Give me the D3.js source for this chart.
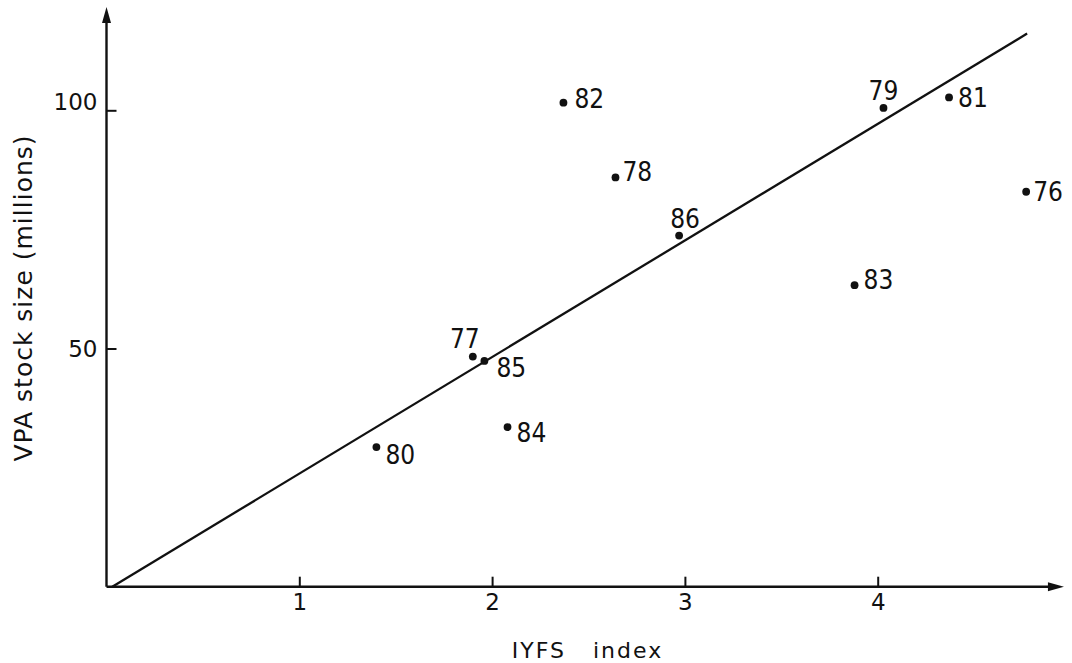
<!DOCTYPE html>
<html>
<head>
<meta charset="utf-8">
<script src="https://cdn.jsdelivr.net/npm/d3@7"></script>
<style>
  html, body { margin: 0; padding: 0; background: #fff; }
  svg { display: block; }
  text { fill: #111; }
</style>
</head>
<body>
<svg id="chart" width="1072" height="663"></svg>
<script>
// ---- data ----
const years = ["76", "77", "78", "79", "80", "81", "82", "83", "84", "85", "86"];
const iyfsIndex = [4.77, 1.90, 2.64, 4.03, 1.40, 4.37, 2.37, 3.88, 2.08, 1.96, 2.97];
const vpaStock = [82.9, 48.3, 85.9, 100.5, 29.3, 102.7, 101.6, 63.3, 33.5, 47.4, 73.7];
const fitX = [0.03, 4.775];
const fitY = [0, 116.1];
const xTicks = [1, 2, 3, 4];
const yTicks = [50, 100];
const xTitle = "IYFS   index";
const yTitle = "VPA stock size (millions)";

// ---- layout / style ----
const svg = d3.select("#chart");
const x = d3.scaleLinear().domain([0, 5]).range([106.5, 106.5 + 5 * 192.8]);
const y = d3.scaleLinear().domain([0, 100]).range([586.7, 110.3]);
const xMax = 4.966, yMax = 121.7;
const ink = "#111";

// label offsets (px) relative to each dot: [dx, dy, anchor]
const labelPlace = {
  "76": [7, 0, "start"], "77": [-8, -18, "middle"], "78": [7, -6, "start"],
  "79": [0, -17, "middle"], "80": [9, 8, "start"], "81": [9, 0, "start"],
  "82": [11, -4, "start"], "83": [9, -5, "start"], "84": [9, 6, "start"],
  "85": [12, 7, "start"], "86": [6, -17, "middle"]
};

// axes lines
svg.append("line")
  .attr("x1", x(0)).attr("y1", y(0)).attr("x2", x(xMax) - 6).attr("y2", y(0))
  .attr("stroke", ink).attr("stroke-width", 2.4);
svg.append("line")
  .attr("x1", x(0)).attr("y1", y(0)).attr("x2", x(0)).attr("y2", y(yMax) + 8)
  .attr("stroke", ink).attr("stroke-width", 2.4);

// arrowheads
const ax = x(xMax), ay = y(0);
svg.append("path")
  .attr("d", `M${ax},${ay} L${ax - 16},${ay - 4.5} L${ax - 16},${ay + 4.5} Z`)
  .attr("fill", ink);
const bx = x(0), by = y(yMax);
svg.append("path")
  .attr("d", `M${bx},${by} L${bx - 4.5},${by + 16} L${bx + 4.5},${by + 16} Z`)
  .attr("fill", ink);

// x ticks (drawn upward, inside)
const xAxis = d3.axisBottom(x).tickValues(xTicks).tickSize(0).tickPadding(0)
  .tickFormat(d3.format("d"));
const gx = svg.append("g").attr("transform", `translate(0,${y(0)})`).call(xAxis);
gx.select(".domain").remove();
gx.selectAll(".tick").append("line")
  .attr("y1", 0).attr("y2", -10).attr("stroke", ink).attr("stroke-width", 2);
gx.selectAll(".tick text")
  .attr("y", 23).attr("dy", null)
  .attr("font-family", "DejaVu Sans, sans-serif").attr("font-size", 23)
  .attr("fill", ink);

// y ticks (drawn to the right, inside)
const yAxis = d3.axisLeft(y).tickValues(yTicks).tickSize(0).tickPadding(0)
  .tickFormat(d3.format("d"));
const gy = svg.append("g").attr("transform", `translate(${x(0)},0)`).call(yAxis);
gy.select(".domain").remove();
gy.selectAll(".tick").append("line")
  .attr("x1", 0).attr("x2", 10).attr("stroke", ink).attr("stroke-width", 2);
gy.selectAll(".tick text")
  .attr("x", -9).attr("dy", d => d === 100 ? "-0.05em" : "0.35em")
  .attr("text-anchor", "end")
  .attr("font-family", "DejaVu Sans, sans-serif").attr("font-size", 23)
  .attr("fill", ink);

// regression line
svg.append("path")
  .datum(fitX.map((v, i) => [v, fitY[i]]))
  .attr("d", d3.line().x(d => x(d[0])).y(d => y(d[1])))
  .attr("fill", "none").attr("stroke", ink).attr("stroke-width", 2.3);

// points
const pts = years.map((yr, i) => ({ yr, xv: iyfsIndex[i], yv: vpaStock[i] }));
svg.append("g").selectAll("circle").data(pts).join("circle")
  .attr("cx", d => x(d.xv)).attr("cy", d => y(d.yv)).attr("r", 3.9)
  .attr("fill", ink);

svg.append("g").selectAll("text").data(pts).join("text")
  .attr("x", d => x(d.xv) + labelPlace[d.yr][0])
  .attr("y", d => y(d.yv) + labelPlace[d.yr][1])
  .attr("dy", "0.36em")
  .attr("text-anchor", d => labelPlace[d.yr][2])
  .attr("font-family", "'Liberation Sans Narrow', 'DejaVu Sans Condensed', sans-serif")
  .attr("font-size", 26)
  .attr("fill", ink)
  .text(d => d.yr);

// axis titles
svg.append("text")
  .attr("x", 587.5).attr("y", 658)
  .attr("text-anchor", "middle")
  .attr("font-family", "DejaVu Sans, sans-serif").attr("font-size", 22)
  .attr("letter-spacing", 2)
  .style("white-space", "pre")
  .attr("fill", ink)
  .text(xTitle);

svg.append("text")
  .attr("transform", "translate(32,298) rotate(-90)")
  .attr("text-anchor", "middle")
  .attr("font-family", "DejaVu Sans, sans-serif").attr("font-size", 25)
  .attr("letter-spacing", 1)
  .attr("fill", ink)
  .text(yTitle);
</script>
</body>
</html>
